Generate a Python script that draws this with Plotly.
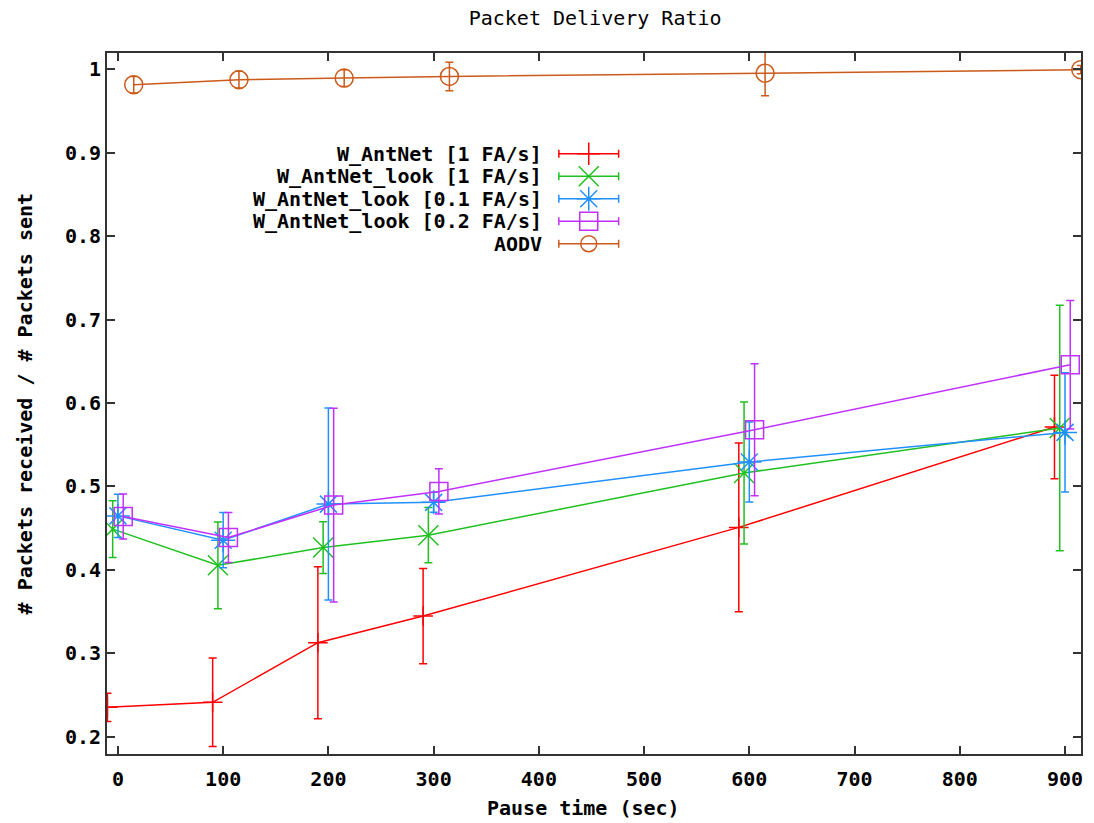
import plotly.graph_objects as go

# ---------------- data ----------------
series_names = ["W_AntNet [1 FA/s]", "W_AntNet_look [1 FA/s]", "W_AntNet_look [0.1 FA/s]",
                "W_AntNet_look [0.2 FA/s]", "AODV"]

x_red = [-10, 90, 190, 290, 590, 890]
y_red = [0.2355, 0.2415, 0.3129, 0.3448, 0.451, 0.5713]
e_red = [0.017, 0.053, 0.091, 0.057, 0.101, 0.062]

x_green = [-5, 95, 195, 295, 595, 895]
y_green = [0.4489, 0.4056, 0.4269, 0.4417, 0.5162, 0.5701]
e_green = [0.034, 0.052, 0.031, 0.033, 0.085, 0.147]

x_blue = [0, 100, 200, 300, 600, 900]
y_blue = [0.4648, 0.4357, 0.4789, 0.481, 0.5293, 0.5648]
e_blue = [0.026, 0.033, 0.115, 0.012, 0.048, 0.0715]

x_purple = [5, 105, 205, 305, 605, 905]
y_purple = [0.4640, 0.4389, 0.4777, 0.4941, 0.568, 0.6459]
e_purple = [0.027, 0.030, 0.116, 0.027, 0.079, 0.077]

x_orange = [15, 115, 215, 315, 615, 915]
y_orange = [0.9812, 0.9872, 0.9892, 0.9911, 0.995, 0.9992]
e_orange = [0.010, 0.010, 0.010, 0.017, 0.027, 0.005]

x_ticks = [0, 100, 200, 300, 400, 500, 600, 700, 800, 900]
x_tick_labels = ["0", "100", "200", "300", "400", "500", "600", "700", "800", "900"]
y_ticks = [0.2, 0.3, 0.4, 0.5, 0.6, 0.7, 0.8, 0.9, 1.0]
y_tick_labels = ["0.2", "0.3", "0.4", "0.5", "0.6", "0.7", "0.8", "0.9", "1"]

# ---------------- styles ----------------
colors = ["#ff0000", "#1fc01f", "#2090ff", "#c030ff", "#cc5a1a"]
symbols = ["cross-thin", "x-thin", "asterisk", "square-open", "circle-open"]
sizes = [14, 20, 20, 18, 18]
FONT = "DejaVu Sans Mono"
FS = 20

fig = go.Figure()

data = [(x_red, y_red, e_red), (x_green, y_green, e_green), (x_blue, y_blue, e_blue),
        (x_purple, y_purple, e_purple), (x_orange, y_orange, e_orange)]

for i, (xs, ys, es) in enumerate(data):
    fig.add_trace(go.Scatter(
        x=xs, y=ys, mode="lines+markers", name=series_names[i],
        line=dict(color=colors[i], width=1.5),
        marker=dict(symbol=symbols[i], size=sizes[i], color=colors[i],
                    line=dict(color=colors[i], width=1.5)),
        error_y=dict(type="data", array=es, visible=True, color=colors[i],
                     thickness=1.5, width=4),
        showlegend=False,
    ))

# legend (gnuplot style: text left, sample right) on an auxiliary hidden axis pair
leg_rows = [0.8563, 0.8242, 0.7921, 0.7600, 0.7279]
leg_x = 0.4946
leg_half = 0.0307
leg_text_x = 0.4485
for i in range(5):
    fig.add_trace(go.Scatter(
        x=[leg_x], y=[leg_rows[i]], mode="markers", xaxis="x2", yaxis="y2",
        marker=dict(symbol=symbols[i], size=[16, 20, 20, 18, 16][i], color=colors[i],
                    line=dict(color=colors[i], width=1.5)),
        error_x=dict(type="data", array=[leg_half], visible=True, color=colors[i],
                     thickness=1.5, width=4),
        showlegend=False, hoverinfo="skip",
    ))
    fig.add_annotation(x=leg_text_x, y=leg_rows[i], xref="x2", yref="y2",
                       text=series_names[i], showarrow=False, xanchor="right",
                       yanchor="middle",
                       font=dict(family=FONT, size=FS, color="#000", weight="bold"))

axis_common = dict(
    showline=True, linecolor="#333", linewidth=2, mirror="allticks",
    ticks="inside", ticklen=8, tickwidth=1.5, tickcolor="#333",
    showgrid=False, zeroline=False,
    tickfont=dict(family=FONT, size=FS, color="#000", weight="bold"),
)

fig.update_layout(
    width=1094, height=823,
    margin=dict(l=107, r=11, t=53, b=69),
    paper_bgcolor="white", plot_bgcolor="white",
    title=dict(text="Packet Delivery Ratio", x=0.544, xanchor="center",
               y=1 - 18 / 823, yanchor="middle", yref="container",
               font=dict(family=FONT, size=FS, color="#000")),
    xaxis=dict(range=[-10.4, 915.2], tickvals=x_ticks, ticktext=x_tick_labels,
               ticklabelstandoff=6, **axis_common),
    yaxis=dict(range=[0.1796, 1.0192], tickvals=y_ticks, ticktext=y_tick_labels, **axis_common),
    xaxis2=dict(range=[0, 1], overlaying="x", visible=False, anchor="y2"),
    yaxis2=dict(range=[0, 1], overlaying="y", visible=False, anchor="x2"),
)

fig.add_annotation(x=0.4897, y=-0.0766, xref="paper", yref="paper",
                   text="Pause time (sec)", showarrow=False, xanchor="center", yanchor="middle",
                   font=dict(family=FONT, size=FS, color="#000", weight="bold"))
fig.add_annotation(x=-0.0843, y=0.5, xref="paper", yref="paper", textangle=-90,
                   text="# Packets received / # Packets sent", showarrow=False,
                   xanchor="center", yanchor="middle",
                   font=dict(family=FONT, size=FS, color="#000", weight="bold"))

fig.write_html("out.html")
